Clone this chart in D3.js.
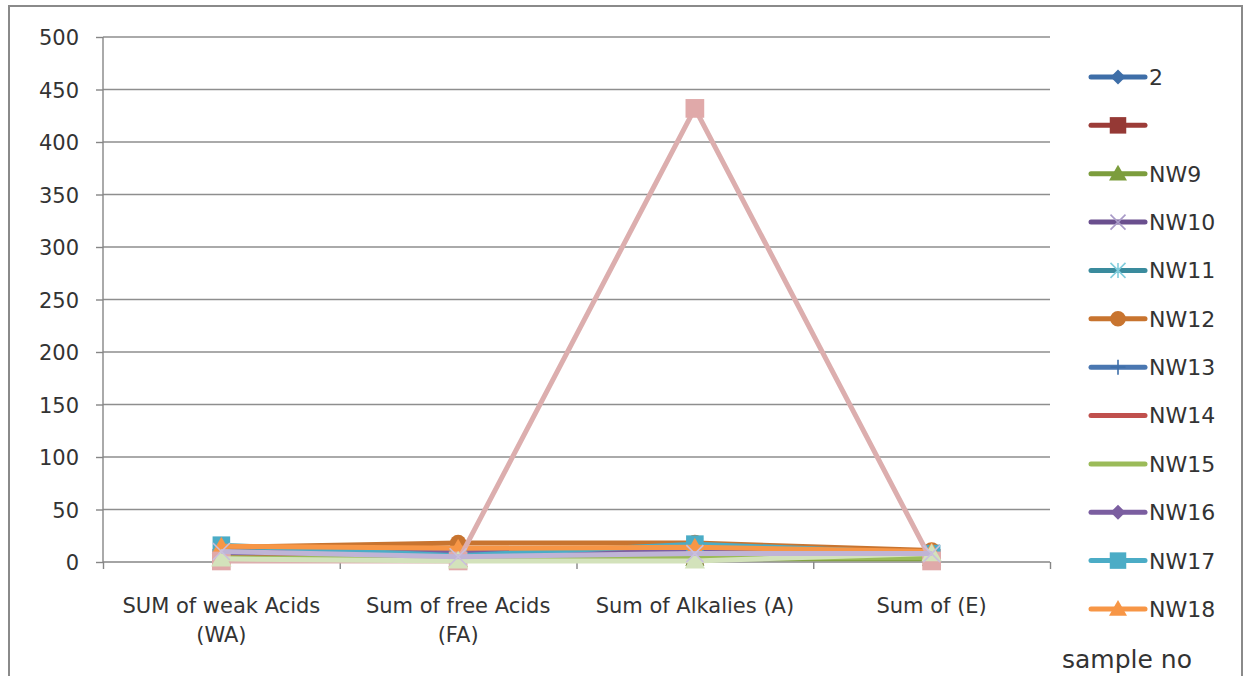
<!DOCTYPE html>
<meta charset="utf-8">
<title>Sample chart</title>
<style>

body {
  margin: 0;
  background: #fff;
}

svg {
  font-family: "DejaVu Sans", sans-serif;
  display: block;
}

.axis path,
.axis line {
  fill: none;
  stroke: #868686;
  stroke-width: 1.4px;
}

.axis text {
  fill: #333;
  font-family: "DejaVu Sans", sans-serif;
  font-size: 21px;
}

.grid line {
  stroke: #8e8e8e;
  stroke-width: 1.3px;
}

</style>
<body>
<script src="https://d3js.org/d3.v7.min.js"></script>
<script>

// categories (each label split into lines)
var categories = [
  ["SUM of weak Acids", "(WA)"],
  ["Sum of free Acids", "(FA)"],
  ["Sum of Alkalies (A)"],
  ["Sum of (E)"]
];

var yTicks = [0, 50, 100, 150, 200, 250, 300, 350, 400, 450, 500];

// series names, in plot order (last three are cut off from the legend)
var names = ["2", "", "NW9", "NW10", "NW11", "NW12", "NW13", "NW14", "NW15", "NW16", "NW17", "NW18", "NW20", "NW21", "NW22"];
var inLegend = 12;

// values per category: WA, FA, A, E
var s2    = [6, 5, 7, 6];
var sBlank= [4, 3, 5, 4];
var nw9   = [3, 2, 3, 3];
var nw10  = [8, 7, 9, 8];
var nw11  = [12, 8, 15, 9];
var nw12  = [14, 18, 18, 11];
var nw13  = [7, 6, 8, 7];
var nw14  = [5, 4, 6, 5];
var nw15  = [4, 3, 4, 4];
var nw16  = [9, 9, 10, 9];
var nw17  = [16, 6, 17, 8];
var nw18  = [15, 13, 14, 10];
var nw20  = [1, 1, 432, 1];
var nw21  = [3, 1, 1, 8];
var nw22  = [10, 5, 8, 8];

var values = [s2, sBlank, nw9, nw10, nw11, nw12, nw13, nw14, nw15, nw16, nw17, nw18, nw20, nw21, nw22];

var lineColors = ["#3e6ea8", "#9c3c38", "#7c9d3d", "#6a4f8e", "#3a8b9d", "#c8742f", "#4a77b1", "#c0504d", "#9bbb59", "#7b5ea0", "#4bacc6", "#f79646", "#dcaeae", "#d3e2bb", "#bfb4d6"];
var markerFill = ["#3e6ea8", "#953935", "#7c9d3d", "#a99bc8", "#82cddc", "#c8742f", "#3f6fa9", null, null, "#7b5ea0", "#4bacc6", "#f79646", "#e0a9a9", "#d3e2bb", "#c9bfdc"];
var markers = ["diamond", "square", "triangle", "x", "star", "circle", "plus", "none", "none", "diamond", "square", "triangle", "square", "triangle", "x"];

var margin = {top: 37, right: 194, bottom: 114, left: 103},
    W = 1244, H = 676,
    width = W - margin.left - margin.right,
    height = H - margin.top - margin.bottom;

var x = d3.scaleLinear()
    .domain([0, categories.length])
    .range([0, width]);

var y = d3.scaleLinear()
    .domain([0, 500])
    .range([height, 0]);

var svg = d3.select("body").append("svg")
    .attr("width", W)
    .attr("height", H);

// chart frame
svg.append("rect")
    .attr("x", 9)
    .attr("y", 6)
    .attr("width", 1233)
    .attr("height", 700)
    .attr("fill", "none")
    .attr("stroke", "#8a8a8a")
    .attr("stroke-width", 2);

var g = svg.append("g")
    .attr("transform", "translate(" + margin.left + "," + margin.top + ")");

g.append("g")
    .attr("class", "grid")
  .selectAll("line")
  .data(yTicks.filter(function(d) { return d > 0; }))
  .enter().append("line")
    .attr("x1", 0)
    .attr("x2", width)
    .attr("y1", function(d) { return y(d); })
    .attr("y2", function(d) { return y(d); });

var yAxis = d3.axisLeft(y)
    .tickValues(yTicks)
    .tickSize(7)
    .tickPadding(17);

g.append("g")
    .attr("class", "y axis")
    .call(yAxis)
    .call(function(a) { a.select(".domain").attr("d", "M0," + height + "V0"); })
    .selectAll("text")
    .attr("dy", "0.36em");

var xAxis = d3.axisBottom(x)
    .tickValues(d3.range(categories.length + 1))
    .tickFormat("")
    .tickSize(7);

g.append("g")
    .attr("class", "x axis")
    .attr("transform", "translate(0," + height + ")")
    .call(xAxis)
    .call(function(a) { a.select(".domain").attr("d", "M0,0H" + width); });

// category labels
g.append("g")
  .selectAll("text")
  .data(categories)
  .enter().append("text")
    .attr("text-anchor", "middle")
    .attr("fill", "#333")
    .attr("font-size", 21)
    .attr("transform", function(d, i) { return "translate(" + x(i + 0.5) + "," + (height + 51) + ")"; })
  .selectAll("tspan")
  .data(function(d) { return d; })
  .enter().append("tspan")
    .attr("x", 0)
    .attr("y", function(d, i) { return i * 29; })
    .text(function(d) { return d; });

function markerPath(type, s) {
  var h = s / 2;
  switch (type) {
    case "diamond": return "M0," + (-h) + "L" + h + ",0L0," + h + "L" + (-h) + ",0Z";
    case "square": h = s * 0.55; return "M" + (-h) + "," + (-h) + "H" + h + "V" + h + "H" + (-h) + "Z";
    case "triangle": h = s * 0.6; return "M0," + (-h) + "L" + h + "," + (h * 0.75) + "H" + (-h) + "Z";
    case "circle": h = s * 0.52; return "M" + h + ",0A" + h + "," + h + " 0 1,1 " + (-h) + ",0A" + h + "," + h + " 0 1,1 " + h + ",0Z";
    case "x": return "M" + (-h) + "," + (-h) + "L" + h + "," + h + "M" + h + "," + (-h) + "L" + (-h) + "," + h;
    case "star": return "M" + (-h) + "," + (-h) + "L" + h + "," + h + "M" + h + "," + (-h) + "L" + (-h) + "," + h + "M0," + (-h) + "V" + h;
    case "plus": return "M0," + (-h) + "V" + h + "M" + (-h) + ",0H" + h;
  }
  return "";
}

function drawMarker(sel, i, s) {
  var type = markers[i];
  if (type === "none") return;
  var open = type === "x" || type === "star" || type === "plus";
  sel.append("path")
      .attr("d", markerPath(type, s))
      .attr("fill", open ? "none" : markerFill[i])
      .attr("stroke", open ? markerFill[i] : "none")
      .attr("stroke-width", open ? 1.6 : 0);
}

var line = d3.line()
    .x(function(d, i) { return x(i + 0.5); })
    .y(function(d) { return y(d); });

var series = g.append("g")
  .selectAll("g")
  .data(values)
  .enter().append("g");

series.append("path")
    .attr("d", line)
    .attr("fill", "none")
    .attr("stroke", function(d, i) { return lineColors[i]; })
    .attr("stroke-width", 5)
    .attr("stroke-linejoin", "round");

series.each(function(vals, i) {
  var s = d3.select(this);
  vals.forEach(function(v, j) {
    s.append("g")
        .attr("transform", "translate(" + x(j + 0.5) + "," + y(v) + ")")
        .call(drawMarker, i, i >= inLegend ? 17 : 16);
  });
});

// legend
var legend = svg.append("g")
    .attr("transform", "translate(1091,77)");

var item = legend.selectAll("g")
  .data(names.slice(0, inLegend))
  .enter().append("g")
    .attr("transform", function(d, i) { return "translate(0," + (i * 48.36) + ")"; });

item.append("line")
    .attr("x1", 0)
    .attr("x2", 54)
    .attr("stroke", function(d, i) { return lineColors[i]; })
    .attr("stroke-width", 5)
    .attr("stroke-linecap", "round");

item.each(function(d, i) {
  d3.select(this).append("g")
      .attr("transform", "translate(27,0)")
      .call(drawMarker, i, 15);
});

item.append("text")
    .attr("x", 58)
    .attr("dy", "0.36em")
    .attr("fill", "#333")
    .attr("font-size", 22)
    .text(function(d) { return d; });

// axis title, cut off at bottom right
svg.append("text")
    .attr("x", 1062)
    .attr("y", 668)
    .attr("fill", "#333")
    .attr("font-size", 25)
    .text("sample no");

</script>
</body>
